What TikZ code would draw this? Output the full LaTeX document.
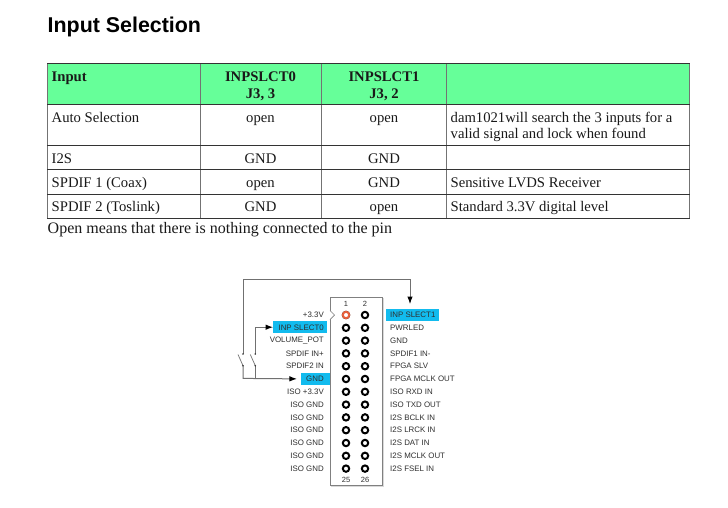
\documentclass[tikz,border=0pt]{standalone}
\usepackage{fontspec}
\setmainfont{Liberation Serif}
\newfontfamily\arialf{Liberation Sans}
\usetikzlibrary{arrows.meta}
\definecolor{hdrgreen}{HTML}{66FF99}
\definecolor{pincyan}{HTML}{12BBEE}
\definecolor{pinorange}{HTML}{E8603C}
\definecolor{wiregrey}{HTML}{707070}
\definecolor{labgrey}{HTML}{303030}
\tikzset{
  cell/.style={font=\fontsize{14.67}{16}\selectfont,inner sep=0pt,anchor=base,text=black!90},
  celll/.style={cell,anchor=base west},
  cellb/.style={cell,font=\fontsize{14.67}{16}\selectfont\bfseries},
  hline/.style={draw=black!80,line width=0.9pt},
  vline/.style={draw=black!55,line width=1pt},
  pinl/.style={font=\arialf\fontsize{7.9}{9}\selectfont,text=labgrey,inner sep=0pt,anchor=east},
  pinr/.style={font=\arialf\fontsize{7.9}{9}\selectfont,text=labgrey,inner sep=0pt,anchor=west},
  pinno/.style={font=\arialf\fontsize{7.5}{9}\selectfont,text=labgrey,inner sep=0pt},
  pinhole/.style={circle,draw=black,line width=2pt,fill=white,minimum size=6.4pt,inner sep=0pt},
  pinfirst/.style={pinhole,draw=pinorange},
  cyanbox/.style={fill=pincyan,inner sep=0pt},
  wire/.style={draw=wiregrey,line width=1pt},
  wirearrow/.style={wire,-{Latex[length=7.5pt,width=5.5pt,black]}},
  contact/.style={circle,fill=black!80,minimum size=1.8pt,inner sep=0pt}
}
\begin{document}
\begin{tikzpicture}[x=1pt,y=-1pt]
\useasboundingbox (0,0) rectangle (728,507);
\fill[white] (0,0) rectangle (728,507);
\node[font=\arialf\bfseries\fontsize{21.4}{24}\selectfont,inner sep=0pt,anchor=base west,text=black] (title) at (47.5,32) {Input Selection};
% table
\fill[hdrgreen] (47.5,63) rectangle (689.5,104.7);
\foreach \x in {47.5,200,321.7,446.8,689.5} \draw[vline] (\x,63) -- (\x,218.3);
\foreach \y in {63,104.7,145.3,169.7,194.3,218.3} \draw[hline] (47,\y) -- (690,\y);
\node[cellb,anchor=base west] (h1) at (51.5,81.5) {Input};
\node[cellb] (h2a) at (260.5,81.5) {INPSLCT0};
\node[cellb] (h2b) at (260.5,98.2) {J3, 3};
\node[cellb] (h3a) at (384,81.5) {INPSLCT1};
\node[cellb] (h3b) at (384,98.2) {J3, 2};
\node[celll] (a1) at (51.5,122) {Auto Selection};
\node[cell] (a2) at (260.5,122) {open};
\node[cell] (a3) at (384,122) {open};
\node[celll] (a4) at (450.5,122) {dam1021will search the 3 inputs for a};
\node[celll] (a5) at (450.5,138.7) {valid signal and lock when found};
\node[celll] (b1) at (51.5,163) {I2S};
\node[cell] (b2) at (260.5,163) {GND};
\node[cell] (b3) at (384,163) {GND};
\node[celll] (c1) at (51.5,187.8) {SPDIF 1 (Coax)};
\node[cell] (c2) at (260.5,187.8) {open};
\node[cell] (c3) at (384,187.8) {GND};
\node[celll] (c4) at (450.5,187.8) {Sensitive LVDS Receiver};
\node[celll] (d1) at (51.5,211.8) {SPDIF 2 (Toslink)};
\node[cell] (d2) at (260.5,211.8) {GND};
\node[cell] (d3) at (384,211.8) {open};
\node[celll] (d4) at (450.5,211.8) {Standard 3.3V digital level};
\node[celll,font=\fontsize{16}{18}\selectfont] (note) at (47.5,233) {Open means that there is nothing connected to the pin};
% connector body
\fill[black!15] (331,298.3) rectangle (384,487);
\filldraw[draw=black!50,fill=white,line width=0.8pt] (330,297.3) rectangle (382.7,485.7);
\filldraw[draw=black!50,fill=white,line width=0.7pt] (330,310.5) -- (334.5,315) -- (330,319.5);
\node[pinno] (n1) at (346,303.5) {1};
\node[pinno] (n2) at (365,303.5) {2};
\node[pinno] (n25) at (346,479.5) {25};
\node[pinno] (n26) at (365,479.5) {26};
% highlighted labels
\node[cyanbox,minimum width=53.4pt,minimum height=12.3pt] (slect0) at (300,327.2) {};
\node[cyanbox,minimum width=29.3pt,minimum height=12.3pt] (gndbox) at (315.3,378.9) {};
\node[cyanbox,minimum width=53.3pt,minimum height=12.3pt] (slect1) at (412.7,314.9) {};
% pins
\foreach \i/\l/\r in {0/{+3.3V}/{INP SLECT1},1/{INP SLECT0}/{PWRLED},2/{VOLUME\_POT}/{GND},3/{SPDIF IN+}/{SPDIF1 IN-},4/{SPDIF2 IN}/{FPGA SLV},5/{GND}/{FPGA MCLK OUT},6/{ISO +3.3V}/{ISO RXD IN},7/{ISO GND}/{ISO TXD OUT},8/{ISO GND}/{I2S BCLK IN},9/{ISO GND}/{I2S LRCK IN},10/{ISO GND}/{I2S DAT IN},11/{ISO GND}/{I2S MCLK OUT},12/{ISO GND}/{I2S FSEL IN}}{
  \pgfmathsetmacro{\yy}{315+12.8*\i}
  \node[pinhole] (pa\i) at (346,\yy) {};
  \node[pinhole] (pb\i) at (365,\yy) {};
  \node[pinl] (ll\i) at (324,\yy) {\l};
  \node[pinr] (lr\i) at (390,\yy) {\r};
}
\node[pinfirst] (pfirst) at (346,315) {};
% wiring
\coordinate (wtop1) at (243,279.3);
\coordinate (wtop2) at (410,279.3);
\coordinate (sa1) at (243,354);
\coordinate (sa2) at (243,365.7);
\coordinate (sb1) at (255.3,354);
\coordinate (sb2) at (255.3,365.7);
\coordinate (ba) at (238,354.5);
\coordinate (bb) at (250.3,354.5);
\coordinate (jn) at (243,378.4);
\coordinate (jm) at (255.3,378.4);
\draw[wirearrow,shorten >=4.5pt] (sa1) -- (wtop1) -- (wtop2) -- (slect1.north -| wtop2);
\draw[wirearrow] (sb1) -- (sb1 |- slect0.west) -- (slect0.west);
\draw[wirearrow,shorten >=3.5pt] (sa2) -- (jn) -- (gndbox.west);
\draw[wire] (sb2) -- (jm);
\draw[wire,line width=0.7pt] (sa2) -- (ba);
\draw[wire,line width=0.7pt] (sb2) -- (bb);
\foreach \c in {sa1,sa2,sb1,sb2} \node[contact] at (\c) {};
\end{tikzpicture}
\end{document}
